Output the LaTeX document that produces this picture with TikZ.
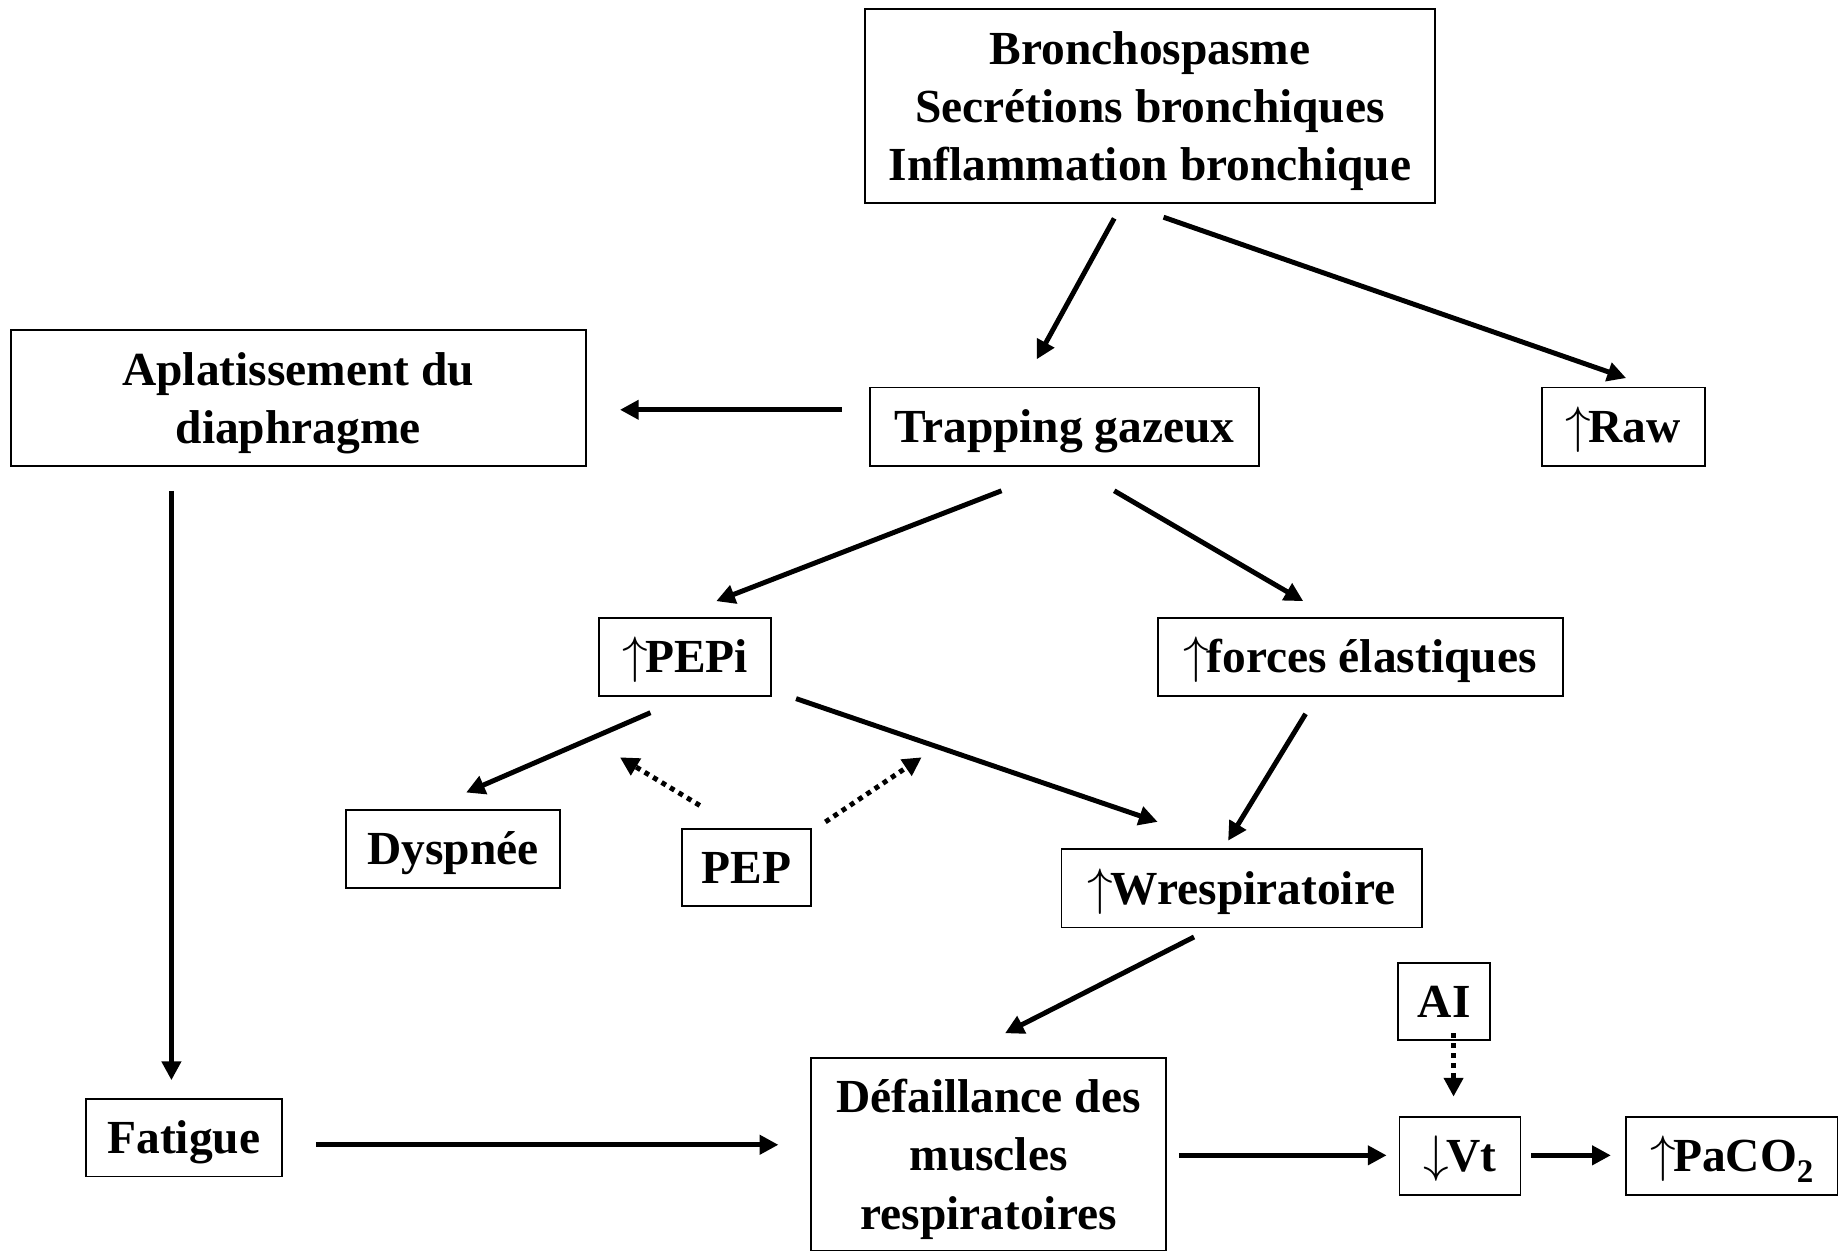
\documentclass[tikz,border=0pt]{standalone}
\usepackage{fontspec}
\setmainfont{Liberation Serif}
\usetikzlibrary{arrows.meta,calc}
\newcommand\uparr{$\uparrow$\kern-0.06em}
\newcommand\dnarr{$\downarrow$\kern-0.06em}
\begin{document}
\begin{tikzpicture}[x=0.02cm,y=0.02cm,
  box/.style={draw,line width=0.9pt,inner sep=0pt,align=center,
    font=\fontsize{23}{28.2}\selectfont\bfseries},
  onebox/.style={box,text height=20.5pt,text depth=5pt},
  multibox/.style={box,text depth=0pt},
  arr/.style={line width=2.4pt,-{Triangle[length=0.32cm,width=0.32cm]}},
  dotarr/.style={arr,dash pattern=on 2.4pt off 2.4pt}]
\useasboundingbox (0,0) rectangle (1568,-1066);
\node[multibox,minimum width=9.70cm,minimum height=3.30cm] (top) at (979.5,-90.5)
  {Bronchospasme\\Secrétions bronchiques\\Inflammation bronchique};
\node[multibox,minimum width=9.80cm,minimum height=2.32cm] (aplat) at (254,-339)
  {Aplatissement du\\diaphragme};
\node[onebox,minimum width=6.62cm,minimum height=1.34cm] (trap) at (906.5,-363.5) {Trapping gazeux};
\node[onebox,minimum width=2.78cm,minimum height=1.34cm] (raw) at (1382.5,-363.5) {\uparr Raw};
\node[onebox,minimum width=2.94cm,minimum height=1.34cm] (pepi) at (583.5,-559.5) {\uparr PEPi};
\node[onebox,minimum width=6.90cm,minimum height=1.34cm] (forces) at (1158.5,-559.5) {\uparr forces élastiques};
\node[onebox,minimum width=3.64cm,minimum height=1.32cm] (dysp) at (386,-723) {Dyspnée};
\node[onebox,minimum width=2.20cm,minimum height=1.32cm] (pep) at (636,-739) {PEP};
\node[onebox,minimum width=6.14cm,minimum height=1.34cm] (wresp) at (1057.5,-756.5) {\uparr Wrespiratoire};
\node[onebox,minimum width=1.56cm,minimum height=1.32cm] (ai) at (1230,-853) {AI};
\node[onebox,minimum width=3.34cm,minimum height=1.32cm] (fatigue) at (156.5,-969) {Fatigue};
\node[multibox,minimum width=6.04cm,minimum height=3.28cm] (defa) at (842,-983)
  {Défaillance des\\muscles\\respiratoires};
\node[onebox,minimum width=2.06cm,minimum height=1.34cm] (vt) at (1243.5,-984.5) {\dnarr Vt};
\node[onebox,minimum width=3.60cm,minimum height=1.34cm] (paco2) at (1475,-984.5) {\uparr PaCO\raisebox{-0.22em}{\fontsize{16}{16}\selectfont 2}};
\coordinate (pepend) at (785,-645);

\draw[arr] ($(top)+(-30.5,-95.5)$) -- ($(trap)+(-23.5,57.5)$);
\draw[arr] ($(top)+(11.5,-94.5)$) -- ($(raw)+(2.5,41.5)$);
\draw[arr] ($(trap)+(-189.5,14.5)$) -- ($(aplat)+(274,-10)$);
\draw[arr] ($(aplat)+(-108,-79)$) -- ($(fatigue)+(-10.5,49)$);
\draw[arr] ($(trap)+(-53.5,-54.5)$) -- ($(pepi)+(26.5,47.5)$);
\draw[arr] ($(trap)+(42.5,-54.5)$) -- ($(forces)+(-48.5,47.5)$);
\draw[arr] ($(pepi)+(-29.5,-47.5)$) -- ($(dysp)+(11,48)$);
\draw[arr] ($(pepi)+(94.5,-35.5)$) -- ($(wresp)+(-71.5,56.5)$);
\draw[arr] ($(forces)+(-46.5,-48.5)$) -- ($(wresp)+(-11.5,40.5)$);
\draw[dotarr] ($(pep)+(-40,53)$) -- ($(pepi)+(-55.5,-85.5)$);
\draw[dotarr] ($(pep)+(67,39)$) -- (pepend);
\draw[arr] ($(wresp)+(-40.5,-41.5)$) -- ($(defa)+(14,103)$);
\draw[arr] ($(fatigue)+(112.5,-6)$) -- ($(defa)+(-179,8)$);
\draw[arr] ($(defa)+(162,-1)$) -- ($(vt)+(-62.5,0.5)$);
\draw[dotarr] ($(ai)+(8,-27)$) -- ($(vt)+(-5.5,50.5)$);
\draw[arr] ($(vt)+(60.5,0.5)$) -- ($(paco2)+(-103,0.5)$);
\end{tikzpicture}
\end{document}
